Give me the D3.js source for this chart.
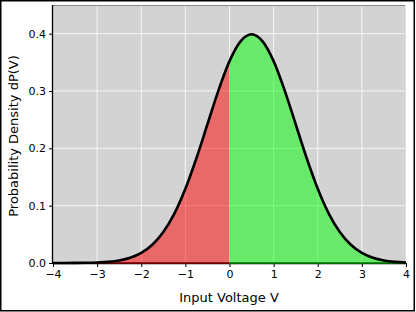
<!DOCTYPE html>
<html><head><meta charset="utf-8">
<script src="https://cdn.jsdelivr.net/npm/d3@7"></script>
<style>html,body{margin:0;padding:0;background:#fff}svg{display:block}text{font-family:"DejaVu Sans",sans-serif}</style>
</head><body>
<svg id="c" width="416" height="312"></svg>
<script>
const voltage = [-4,-3.75,-3.5,-3.25,-3,-2.75,-2.5,-2.25,-2,-1.75,-1.5,-1.25,-1,-0.75,-0.5,-0.25,0,0.25,0.5,0.75,1,1.25,1.5,1.75,2,2.25,2.5,2.75,3,3.25,3.5,3.75,4];
const density = [0.000016,0.000048,0.000134,0.000353,0.000873,0.002029,0.004432,0.009094,0.017528,0.03174,0.053991,0.086277,0.129518,0.182649,0.241971,0.301137,0.352065,0.386668,0.398942,0.386668,0.352065,0.301137,0.241971,0.182649,0.129518,0.086277,0.053991,0.03174,0.017528,0.009094,0.004432,0.002029,0.000873];
const xTicks = [-4,-3,-2,-1,0,1,2,3,4];
const yTicks = [0.0,0.1,0.2,0.3,0.4];
const threshold = 0;

const svg = d3.select("#c");
const L=53, R=406, T=5, B=263;
const x = d3.scaleLinear().domain([-4,4]).range([L,R]);
const y = d3.scaleLinear().domain([0,0.45]).range([B,T]);
const pts = voltage.map((v,i)=>({v, d:density[i]}));

svg.append("rect").attr("x",L).attr("y",T).attr("width",R-L).attr("height",B-T).attr("fill","#d3d3d3");
// grid
svg.append("g").selectAll("line").data(xTicks.slice(1,-1)).join("line")
  .attr("x1",d=>x(d)).attr("x2",d=>x(d)).attr("y1",T).attr("y2",B)
  .attr("stroke","#fff").attr("stroke-opacity",0.8).attr("stroke-width",1);
svg.append("g").selectAll("line").data(yTicks.slice(1)).join("line")
  .attr("x1",L).attr("x2",R).attr("y1",d=>y(d)).attr("y2",d=>y(d))
  .attr("stroke","#fff").attr("stroke-opacity",0.8).attr("stroke-width",1);

const area = d3.area().x(p=>x(p.v)).y0(y(0)).y1(p=>y(p.d)).curve(d3.curveMonotoneX);
const left = pts.filter(p=>p.v<=threshold), right = pts.filter(p=>p.v>=threshold);
svg.append("path").datum(left).attr("d",area).attr("fill","red").attr("fill-opacity",0.5);
svg.append("path").datum(right).attr("d",area).attr("fill","lime").attr("fill-opacity",0.5);

// spines
svg.append("line").attr("x1",L).attr("x2",R).attr("y1",T+0.5).attr("y2",T+0.5).attr("stroke","#888");
svg.append("line").attr("x1",R-0.5).attr("x2",R-0.5).attr("y1",T).attr("y2",B).attr("stroke","#e0e0e0");

const gx = svg.append("g").attr("transform",`translate(0,${B})`)
  .call(d3.axisBottom(x).tickValues(xTicks).tickSize(4).tickPadding(3).tickFormat(d3.format("d")));
const gy = svg.append("g").attr("transform",`translate(${L},0)`)
  .call(d3.axisLeft(y).tickValues(yTicks).tickSize(4).tickPadding(3).tickFormat(d3.format(".1f")));
[gx,gy].forEach(g=>{g.selectAll("text").attr("font-size",11).attr("fill","#000").attr("font-family","DejaVu Sans");
  g.select(".domain").attr("stroke","#000").attr("stroke-width",1.3);
  g.selectAll(".tick line").attr("stroke","#000");});
gx.select(".domain").attr("d",`M${L},0.5H${R}`);
gy.select(".domain").attr("d",`M-0.5,${T}V${B}`);
// fill edges along bottom
svg.append("line").attr("x1",x(-4)).attr("x2",x(threshold)).attr("y1",B).attr("y2",B).attr("stroke","#8a0000").attr("stroke-width",1.3);
svg.append("line").attr("x1",x(threshold)).attr("x2",x(4)).attr("y1",B).attr("y2",B).attr("stroke","#008a00").attr("stroke-width",1.3);

const line = d3.line().x(p=>x(p.v)).y(p=>y(p.d)).curve(d3.curveMonotoneX);
svg.append("path").datum(pts).attr("d",line).attr("fill","none").attr("stroke","#000").attr("stroke-width",2.6);

svg.append("text").attr("x",229).attr("y",302).attr("text-anchor","middle").attr("font-size",13).text("Input Voltage V");
svg.append("text").attr("transform","translate(18,136) rotate(-90)").attr("text-anchor","middle").attr("font-size",13).text("Probability Density dP(V)");

svg.append("rect").attr("x",0.75).attr("y",0.75).attr("width",413.5).attr("height",310).attr("fill","none").attr("stroke","#000").attr("stroke-width",1.5);
</script>
</body></html>
